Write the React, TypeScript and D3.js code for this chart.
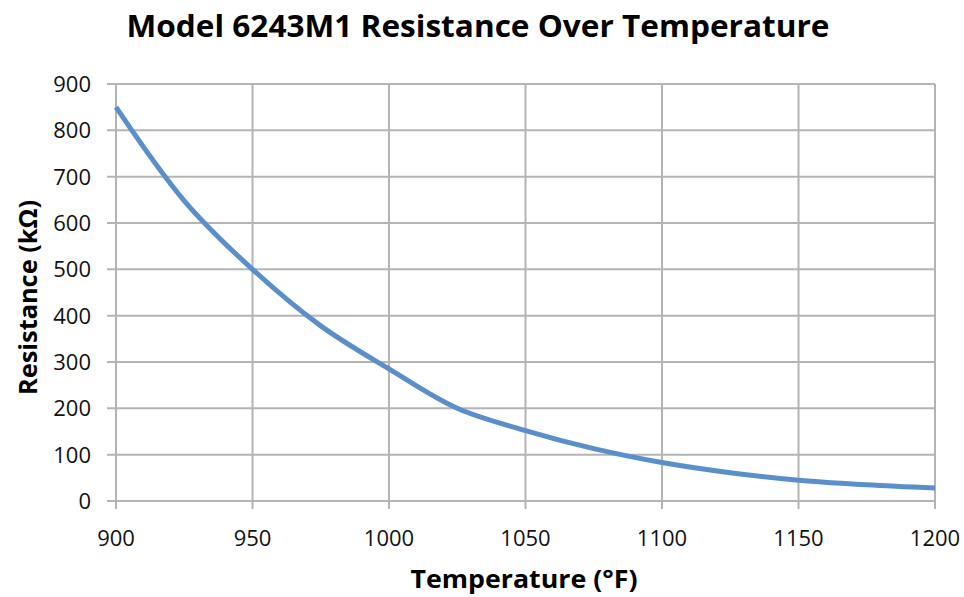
import * as d3 from 'd3';

const temps = [900, 925, 950, 975, 1000, 1025, 1050, 1075, 1100, 1125, 1150, 1175, 1200];
const resistance = [850, 648, 500, 378, 285, 200, 152, 113, 83, 61, 45, 35, 28];
const xTicks = [900, 950, 1000, 1050, 1100, 1150, 1200];
const yTicks = [0, 100, 200, 300, 400, 500, 600, 700, 800, 900];

const W = 964, H = 597;
const plot = { left: 116, right: 935, top: 84, bottom: 501 };
const font = '"Open Sans", sans-serif';
const grid = '#b4b4b4';

export default function App() {
  const x = d3.scaleLinear().domain([900, 1200]).range([plot.left, plot.right]);
  const y = d3.scaleLinear().domain([0, 900]).range([plot.bottom, plot.top]);
  const pts = temps.map((t, i) => [t, resistance[i]] as [number, number]);
  const line = d3.line<[number, number]>()
    .x(d => x(d[0]))
    .y(d => y(d[1]))
    .curve(d3.curveCatmullRom.alpha(0.5));

  return (
    <svg width={W} height={H} style={{ position: 'absolute', left: 0, top: 0, background: '#fff' }}>
      {/* grid */}
      {yTicks.map(v => (
        <line key={'gy' + v} x1={plot.left - 9} x2={plot.right} y1={y(v)} y2={y(v)} stroke={grid} strokeWidth={2} />
      ))}
      {xTicks.map(v => (
        <line key={'gx' + v} x1={x(v)} x2={x(v)} y1={plot.top} y2={plot.bottom + 8} stroke={grid} strokeWidth={2} />
      ))}

      {/* tick labels */}
      {yTicks.map(v => (
        <text key={'ty' + v} x={plot.left - 25} y={y(v)} dy="0.36em" textAnchor="end"
          fontFamily={font} fontSize={22} fill="#111">{v}</text>
      ))}
      {xTicks.map(v => (
        <text key={'tx' + v} x={x(v)} y={546} textAnchor="middle"
          fontFamily={font} fontSize={22} fill="#111">{v}</text>
      ))}

      {/* series */}
      <path d={line(pts) ?? ''} fill="none" stroke="#5b8fcc" strokeWidth={5} strokeLinecap="butt" />

      {/* titles */}
      <text x={478} y={37} textAnchor="middle" fontFamily={font} fontWeight={700} fontSize={30}
        textLength={703} lengthAdjust="spacingAndGlyphs" fill="#000">
        Model 6243M1 Resistance Over Temperature
      </text>
      <text x={524} y={588} textAnchor="middle" fontFamily={font} fontWeight={700} fontSize={25}
        textLength={227} lengthAdjust="spacingAndGlyphs" fill="#000">
        Temperature (°F)
      </text>
      <text transform={`translate(37,${(plot.top + plot.bottom) / 2 + 5}) rotate(-90)`} textAnchor="middle"
        fontFamily={font} fontWeight={700} fontSize={25} textLength={195} lengthAdjust="spacingAndGlyphs" fill="#000">
        Resistance (kΩ)
      </text>
    </svg>
  );
}
